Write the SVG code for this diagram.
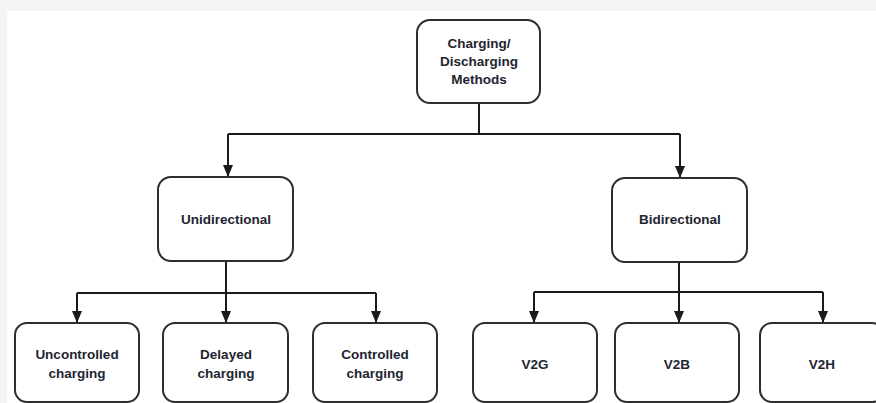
<svg xmlns="http://www.w3.org/2000/svg" width="876" height="403" viewBox="0 0 876 403">
<defs>
<marker id="ah" viewBox="0 0 12 10" refX="12" refY="5" markerWidth="12" markerHeight="10" markerUnits="userSpaceOnUse" orient="auto">
<path d="M0,0 L12,5 L0,10 Z" fill="#1a1a1a"/>
</marker>
</defs>
<style>
.box{fill:#fff;stroke:#2e2e2e;stroke-width:2}
.lbl{font-family:"Liberation Sans",Arial,sans-serif;font-weight:bold;font-size:13.5px;fill:#1e2530;text-anchor:middle}
.ln{fill:none;stroke:#1a1a1a;stroke-width:2}
</style>
<rect x="0" y="0" width="876" height="403" fill="#f4f4f4"/>
<rect x="7" y="11" width="869" height="392" fill="#fff"/>
<g id="connectors">
<path class="ln" d="M479,103 V134"/>
<path class="ln" d="M228,134 H680"/>
<path class="ln" d="M228,134 V177" marker-end="url(#ah)"/>
<path class="ln" d="M680,134 V178" marker-end="url(#ah)"/>
<path class="ln" d="M226,261 V293"/>
<path class="ln" d="M77,293 H376"/>
<path class="ln" d="M77,293 V323" marker-end="url(#ah)"/>
<path class="ln" d="M226,293 V323" marker-end="url(#ah)"/>
<path class="ln" d="M376,293 V323" marker-end="url(#ah)"/>
<path class="ln" d="M679,262 V292"/>
<path class="ln" d="M534,292 H823"/>
<path class="ln" d="M534,292 V323" marker-end="url(#ah)"/>
<path class="ln" d="M679,292 V323" marker-end="url(#ah)"/>
<path class="ln" d="M823,292 V323" marker-end="url(#ah)"/>
</g>
<g id="root">
<rect class="box" x="417" y="20" width="123" height="83" rx="13"/>
<text class="lbl" x="479" y="48">Charging/</text>
<text class="lbl" x="479" y="66">Discharging</text>
<text class="lbl" x="479" y="84">Methods</text>
</g>
<g id="unidirectional">
<rect class="box" x="158" y="177" width="135" height="84" rx="13"/>
<text class="lbl" x="226" y="224">Unidirectional</text>
</g>
<g id="bidirectional">
<rect class="box" x="612" y="178" width="135" height="84" rx="13"/>
<text class="lbl" x="680" y="224">Bidirectional</text>
</g>
<g id="uncontrolled">
<rect class="box" x="15" y="323" width="124" height="79" rx="12"/>
<text class="lbl" x="77" y="359">Uncontrolled</text>
<text class="lbl" x="77" y="378">charging</text>
</g>
<g id="delayed">
<rect class="box" x="163" y="323" width="125" height="79" rx="12"/>
<text class="lbl" x="226" y="359">Delayed</text>
<text class="lbl" x="226" y="378">charging</text>
</g>
<g id="controlled">
<rect class="box" x="313" y="323" width="124" height="79" rx="12"/>
<text class="lbl" x="375" y="359">Controlled</text>
<text class="lbl" x="375" y="378">charging</text>
</g>
<g id="v2g">
<rect class="box" x="473" y="323" width="124" height="79" rx="12"/>
<text class="lbl" x="535" y="369">V2G</text>
</g>
<g id="v2b">
<rect class="box" x="615" y="323" width="124" height="79" rx="12"/>
<text class="lbl" x="677" y="369">V2B</text>
</g>
<g id="v2h">
<rect class="box" x="760" y="323" width="124" height="79" rx="12"/>
<text class="lbl" x="822" y="369">V2H</text>
</g>
</svg>
